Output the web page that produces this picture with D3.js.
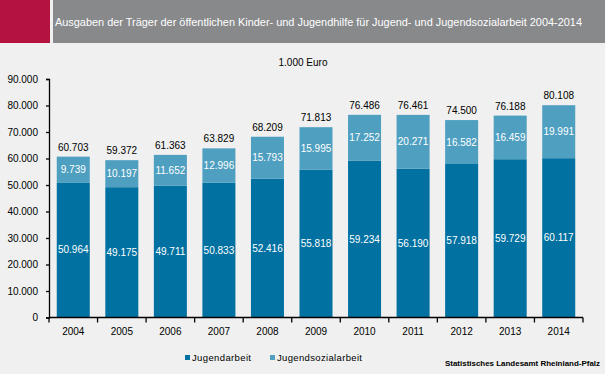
<!DOCTYPE html>
<html><head><meta charset="utf-8">
<script src="https://cdn.jsdelivr.net/npm/d3@7"></script>
<style>
html,body{margin:0;padding:0;background:#eff0ef;}
svg{display:block;font-family:"Liberation Sans",Arial,sans-serif;}
</style></head>
<body><svg id="c" width="605" height="374"></svg>
<script>
const years = ["2004","2005","2006","2007","2008","2009","2010","2011","2012","2013","2014"];
const jugendarbeit = [50964,49175,49711,50833,52416,55818,59234,56190,57918,59729,60117];
const jugendsozialarbeit = [9739,10197,11652,12996,15793,15995,17252,20271,16582,16459,19991];
const totals = [60703,59372,61363,63829,68209,71813,76486,76461,74500,76188,80108];
const yTicks = [0,10000,20000,30000,40000,50000,60000,70000,80000,90000];
const seriesNames = ["Jugendarbeit","Jugendsozialarbeit"];
const colors = ["#0071a1","#4f9fc1"];
const title = "Ausgaben der Träger der öffentlichen Kinder- und Jugendhilfe für Jugend- und Jugendsozialarbeit 2004-2014";
const unit = "1.000 Euro";
const source = "Statistisches Landesamt Rheinland-Pfalz";

const fmt = v => d3.format(",")(v).replace(/,/g,".");
const svg = d3.select("#c");
svg.append("rect").attr("width",605).attr("height",374).attr("fill","#eff0ef");
svg.append("rect").attr("x",0).attr("y",0).attr("width",50).attr("height",43).attr("fill","#b5133f");
svg.append("rect").attr("x",53).attr("y",0).attr("width",552).attr("height",43).attr("fill","#88898b");
svg.append("text").attr("x",55).attr("y",26).attr("fill","#fff").attr("font-size",11)
  .attr("textLength",527).attr("lengthAdjust","spacingAndGlyphs").text(title);
svg.append("text").attr("x",303).attr("y",66).attr("text-anchor","middle").attr("font-size",10).attr("fill","#000").text(unit);

const x = d3.scaleBand().domain(years).range([49,583]).paddingInner(0.32).paddingOuter(0.16);
const y = d3.scaleLinear().domain([0,90000]).range([317.5,79]);

const yAx = svg.append("g").attr("transform","translate(49,0)")
  .call(d3.axisLeft(y).tickValues(yTicks).tickFormat(fmt).tickSize(3).tickPadding(8));
yAx.selectAll("text").attr("font-size",10).attr("fill","#000").attr("font-family","Liberation Sans, Arial, sans-serif");
yAx.selectAll("line,path").attr("stroke","#000").attr("stroke-width",1.3);

const stack = years.map((yr,i)=>({yr, a:jugendarbeit[i], b:jugendsozialarbeit[i], t:totals[i]}));
const g = svg.append("g");
g.selectAll(".ba").data(stack).join("rect")
  .attr("x",d=>x(d.yr)).attr("width",x.bandwidth())
  .attr("y",d=>y(d.a)).attr("height",d=>y(0)-y(d.a)).attr("fill",colors[0]);
g.selectAll(".bb").data(stack).join("rect")
  .attr("x",d=>x(d.yr)).attr("width",x.bandwidth())
  .attr("y",d=>y(d.a+d.b)).attr("height",d=>y(d.a)-y(d.a+d.b)).attr("fill",colors[1]);
g.selectAll(".la").data(stack).join("text")
  .attr("x",d=>x(d.yr)+x.bandwidth()/2).attr("y",d=>(y(0)+y(d.a))/2+3.5)
  .attr("text-anchor","middle").attr("font-size",10).attr("fill","#fff").text(d=>fmt(d.a));
g.selectAll(".lb").data(stack).join("text")
  .attr("x",d=>x(d.yr)+x.bandwidth()/2).attr("y",d=>(y(d.a)+y(d.a+d.b))/2+3.5)
  .attr("text-anchor","middle").attr("font-size",10).attr("fill","#fff").text(d=>fmt(d.b));
g.selectAll(".lt").data(stack).join("text")
  .attr("x",d=>x(d.yr)+x.bandwidth()/2).attr("y",d=>y(d.t)-6)
  .attr("text-anchor","middle").attr("font-size",10).attr("fill","#000").text(d=>fmt(d.t));

const xAx = svg.append("g").attr("transform","translate(0,317.5)")
  .call(d3.axisBottom(x).tickSize(0).tickPadding(10));
xAx.selectAll("text").attr("font-size",10).attr("fill","#000").attr("font-family","Liberation Sans, Arial, sans-serif");
xAx.select("path").attr("stroke","#000").attr("stroke-width",1.3).attr("d","M49,0H583");
const bounds = years.map((yr)=>x(yr)-x.step()*x.paddingInner()/2);
bounds.push(583);
xAx.selectAll(".bt").data(bounds).join("line").attr("x1",d=>d).attr("x2",d=>d).attr("y1",0).attr("y2",5).attr("stroke","#000").attr("stroke-width",1.3);

const leg = svg.append("g");
const legX = [185,270];
const legW = [59,85];
seriesNames.forEach((n,i)=>{
  leg.append("rect").attr("x",legX[i]).attr("y",355).attr("width",5).attr("height",5).attr("fill",colors[i]);
  leg.append("text").attr("x",legX[i]+7).attr("y",361).attr("font-size",9.5).attr("fill","#000")
    .attr("textLength",legW[i]).attr("lengthAdjust","spacing").text(n);
});
svg.append("text").attr("x",445).attr("y",366).attr("font-size",8).attr("font-weight","bold").attr("fill","#000")
  .attr("textLength",155).attr("lengthAdjust","spacingAndGlyphs").text(source);
</script></body></html>
